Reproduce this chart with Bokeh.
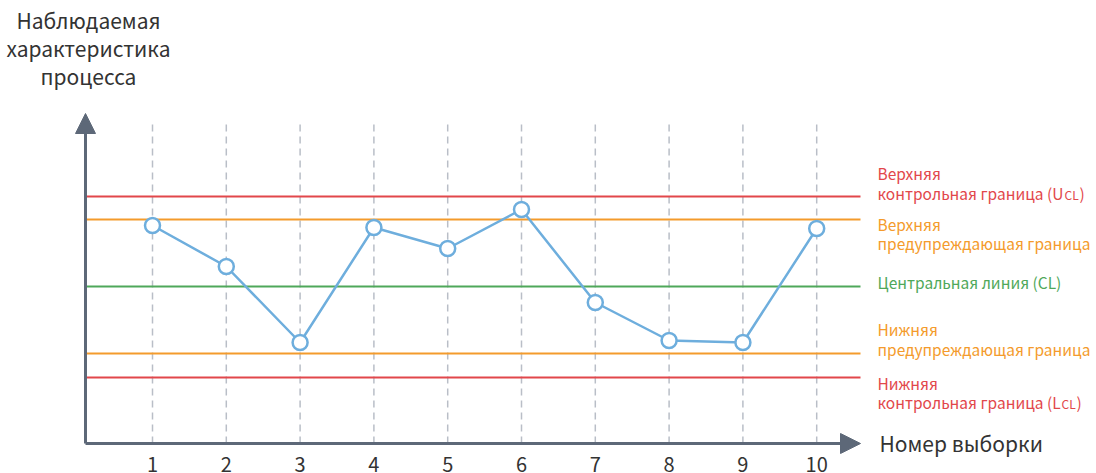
from bokeh.plotting import figure
from bokeh.models import Range1d, Arrow, NormalHead, Label, FixedTicker
from bokeh.embed import file_html
from bokeh.resources import INLINE

# ---------------- data ----------------
samples = [1, 2, 3, 4, 5, 6, 7, 8, 9, 10]
measurements = [21.8, 17.7, 10.1, 21.6, 19.5, 23.4, 14.1, 10.3, 10.1, 21.5]
ucl = 24.7   # upper control limit
uwl = 22.4   # upper warning limit
cl = 15.7    # central line
lwl = 9.0    # lower warning limit
lcl = 6.6    # lower control limit
tick_labels = [str(s) for s in samples]

# ---------------- styles ----------------
FONT = "Noto Sans CJK JP"
AXIS_C = "#5D6878"
GRID_C = "#B9BEC7"
RED = "#E2474B"
ORANGE = "#F49B2C"
GREEN = "#4FA85A"
BLUE = "#6EAEDD"
TEXT_C = "#333333"

FW, FH = 1096, 460              # frame size in pixels
AXIS_PX = 443                   # page pixel row of the x axis
X_UNIT, Y_UNIT = 73.8, 10.0     # pixels per data unit
X1_PX = 152                     # page pixel column of sample 1

def dx(px):
    return 1 + (px - X1_PX) / X_UNIT

def dy(py):
    return (AXIS_PX - py) / Y_UNIT

p = figure(frame_width=FW, frame_height=FH, output_backend="svg", toolbar_location=None,
           x_range=Range1d(dx(0), dx(FW)), y_range=Range1d(dy(FH), dy(0)),
           y_axis_location=None, min_border_left=0, min_border_right=0,
           min_border_top=0, min_border_bottom=13)
p.outline_line_color = None
p.xgrid.grid_line_color = None
p.ygrid.grid_line_color = None
p.background_fill_color = "white"
p.border_fill_color = "white"

ax = p.xaxis[0]
ax.ticker = FixedTicker(ticks=samples)
ax.major_label_overrides = {s: t for s, t in zip(samples, tick_labels)}
ax.axis_line_color = None
ax.major_tick_line_color = None
ax.minor_tick_line_color = None
ax.major_tick_out = 0
ax.major_tick_in = 0
ax.major_label_standoff = -4
ax.major_label_text_font = FONT
ax.major_label_text_font_size = "20px"
ax.major_label_text_color = TEXT_C

# vertical dashed guides
p.segment(x0=samples, y0=[0] * len(samples), x1=samples, y1=[dy(122)] * len(samples),
          line_color=GRID_C, line_width=1.5, line_dash="7 5")

# limit lines
x_left, x_right = dx(85), dx(860)
for val, col in [(ucl, RED), (uwl, ORANGE), (cl, GREEN), (lwl, ORANGE), (lcl, RED)]:
    p.segment(x0=[x_left], y0=[val], x1=[x_right], y1=[val], line_color=col, line_width=2)

# series
p.line(samples, measurements, line_color=BLUE, line_width=2.5)
p.scatter(samples, measurements, size=15, marker="circle", fill_color="white",
          line_color=BLUE, line_width=2.5)

# axes arrows
p.add_layout(Arrow(end=NormalHead(size=20, fill_color=AXIS_C, line_color=AXIS_C, line_width=1),
                   x_start=dx(85), y_start=0, x_end=dx(85), y_end=dy(113),
                   line_color=AXIS_C, line_width=3))
p.add_layout(Arrow(end=NormalHead(size=20, fill_color=AXIS_C, line_color=AXIS_C, line_width=1),
                   x_start=dx(85), y_start=0, x_end=dx(860), y_end=0,
                   line_color=AXIS_C, line_width=3))

def label(txt, px, py, color, size="15.5px", align="left", baseline="middle"):
    p.add_layout(Label(x=dx(px), y=dy(py), text=txt, text_font=FONT,
                       text_font_size=size, text_color=color, text_align=align,
                       text_baseline=baseline))

# y title
for t, py in [("Наблюдаемая", 19), ("характеристика", 47), ("процесса", 75)]:
    label(t, 88, py, TEXT_C, size="21px", align="center")

# x title
label("Номер выборки", 879, 442, TEXT_C, size="21px")

# right-side labels
LX = 877
label("Верхняя", LX, 172, RED)
label("контрольная граница (U", LX, 192, RED)
label("CL", 1064, 193.5, RED, size="12px")
label(")", 1079, 192, RED)

label("Верхняя", LX, 223, ORANGE)
label("предупреждающая граница", LX, 242, ORANGE)

label("Центральная линия (CL)", LX, 281, GREEN)

label("Нижняя", LX, 328, ORANGE)
label("предупреждающая граница", LX, 348, ORANGE)

label("Нижняя", LX, 382, RED)
label("контрольная граница (L", LX, 401, RED)
label("CL", 1061, 402.5, RED, size="12px")
label(")", 1076, 401, RED)

open("out.html", "w").write(file_html(p, INLINE))
